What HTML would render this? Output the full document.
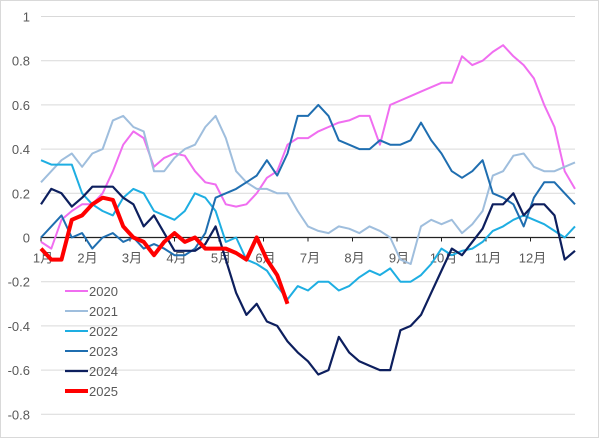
<!DOCTYPE html>
<html><head><meta charset="utf-8"><style>
html,body{margin:0;padding:0;background:#fff}
svg{display:block;font-family:"Liberation Sans","Noto Sans CJK JP",sans-serif}
</style></head><body>
<svg id="chart" width="600" height="439">
<rect x="0.5" y="0.5" width="598" height="437" fill="#fff" stroke="#d9d9d9"/>
<g id="grid"></g><g id="axes"></g><g id="series"></g><g id="legend"></g>
</svg>
<script>
const months = ["1月","2月","3月","4月","5月","6月","7月","8月","9月","10月","11月","12月"];
const yTicks = [1,0.8,0.6,0.4,0.2,0,-0.2,-0.4,-0.6,-0.8];
const seriesNames = ["2020","2021","2022","2023","2024","2025"];
const s2020 = [-0.02,-0.05,0.08,0.12,0.15,0.15,0.2,0.3,0.42,0.48,0.45,0.32,0.36,0.38,0.37,0.3,0.25,0.24,0.15,0.14,0.15,0.2,0.27,0.3,0.42,0.45,0.45,0.48,0.5,0.52,0.53,0.55,0.55,0.42,0.6,0.62,0.64,0.66,0.68,0.7,0.7,0.82,0.78,0.8,0.84,0.87,0.82,0.78,0.72,0.6,0.5,0.3,0.22];
const s2021 = [0.25,0.3,0.35,0.38,0.32,0.38,0.4,0.53,0.55,0.5,0.48,0.3,0.3,0.36,0.4,0.42,0.5,0.55,0.45,0.3,0.25,0.22,0.22,0.2,0.2,0.12,0.05,0.03,0.02,0.05,0.04,0.02,0.05,0.03,0.0,-0.1,-0.12,0.05,0.08,0.06,0.08,0.02,0.06,0.12,0.28,0.3,0.37,0.38,0.32,0.3,0.3,0.32,0.34];
const s2022 = [0.35,0.33,0.33,0.33,0.2,0.15,0.12,0.1,0.18,0.22,0.2,0.12,0.1,0.08,0.12,0.2,0.18,0.12,-0.02,0.0,-0.1,-0.12,-0.15,-0.22,-0.28,-0.22,-0.24,-0.2,-0.2,-0.24,-0.22,-0.18,-0.15,-0.17,-0.14,-0.2,-0.2,-0.17,-0.12,-0.05,-0.08,-0.06,-0.05,-0.02,0.03,0.05,0.08,0.1,0.08,0.06,0.03,0.0,0.05];
const s2023 = [0.0,0.05,0.1,0.0,0.02,-0.05,0.0,0.02,-0.02,0.0,-0.05,-0.03,-0.05,-0.08,-0.08,-0.05,0.02,0.18,0.2,0.22,0.25,0.28,0.35,0.28,0.38,0.55,0.55,0.6,0.55,0.44,0.42,0.4,0.4,0.44,0.42,0.42,0.44,0.52,0.44,0.38,0.3,0.27,0.3,0.35,0.2,0.18,0.15,0.05,0.18,0.25,0.25,0.2,0.15];
const s2024 = [0.15,0.22,0.2,0.14,0.18,0.23,0.23,0.23,0.18,0.15,0.05,0.1,0.02,-0.06,-0.06,-0.06,-0.03,0.05,-0.1,-0.25,-0.35,-0.3,-0.38,-0.4,-0.47,-0.52,-0.56,-0.62,-0.6,-0.45,-0.52,-0.56,-0.58,-0.6,-0.6,-0.42,-0.4,-0.35,-0.25,-0.15,-0.05,-0.08,-0.02,0.04,0.15,0.15,0.2,0.1,0.15,0.15,0.1,-0.1,-0.06];
const s2025 = [-0.05,-0.1,-0.1,0.08,0.1,0.15,0.18,0.17,0.05,0.0,-0.02,-0.08,-0.02,0.02,-0.02,0.0,-0.05,-0.05,-0.05,-0.07,-0.1,0.0,-0.1,-0.17,-0.3];
const seriesData = [s2020,s2021,s2022,s2023,s2024,s2025];
const colors = ["#f06ef0","#9fbedd","#1eaee2","#1f6eb0","#0d1f5e","#ff0000"];
const widths = [2,2,2,2,2.2,4];

const NS="http://www.w3.org/2000/svg";
const X0=41, X1=575, Y0=237.5, YS=221;
const nWeeks=53;
function xW(i){return X0+(X1-X0)*i/(nWeeks-1);}
function xM(m){return X0+(X1-X0)*m/12;}
function yV(v){return Y0-v*YS;}
function mk(tag,attrs,parent){const e=document.createElementNS(NS,tag);for(const k in attrs)e.setAttribute(k,attrs[k]);parent.appendChild(e);return e;}

const grid=document.getElementById('grid'), axes=document.getElementById('axes'), ser=document.getElementById('series'), leg=document.getElementById('legend');
yTicks.forEach(v=>{
  if(v!==0){const l=mk('line',{x1:X0,x2:X1,y1:yV(v),y2:yV(v),stroke:'#d9d9d9','stroke-width':1},grid);
  
  }
  const t=mk('text',{x:30,y:yV(v)+5,'text-anchor':'end','font-size':13,fill:'#595959'},axes);
  t.textContent=String(v);
  
  
});
seriesData.forEach((d,si)=>{
  const pts=d.map((v,i)=>xW(i).toFixed(1)+','+yV(v).toFixed(1)).join(' ');
  const p=mk('polyline',{points:pts,fill:'none',stroke:colors[si],'stroke-width':widths[si],'stroke-linejoin':'round'},ser);
  
  
});
const zl=mk('line',{x1:X0,x2:X1,y1:Y0,y2:Y0,stroke:'#222','stroke-width':1.3},axes);


months.forEach((m,i)=>{
  const tk=mk('line',{x1:xM(i),x2:xM(i),y1:Y0,y2:Y0+4,stroke:'#222','stroke-width':1},axes);
  
  
  const t=mk('text',{x:xM(i)+2,y:Y0+25,'text-anchor':'middle','font-size':13,fill:'#595959'},axes);
  t.textContent=m;
  
  
});
seriesNames.forEach((n,i)=>{
  const y=291+i*20;
  const l=mk('line',{x1:65,x2:88,y1:y,y2:y,stroke:colors[i],'stroke-width':widths[i]},leg);
  
  
  const t=mk('text',{x:89,y:y+5,'font-size':13,fill:'#595959'},leg);
  t.textContent=n;
  
  
});
</script>
</body></html>
